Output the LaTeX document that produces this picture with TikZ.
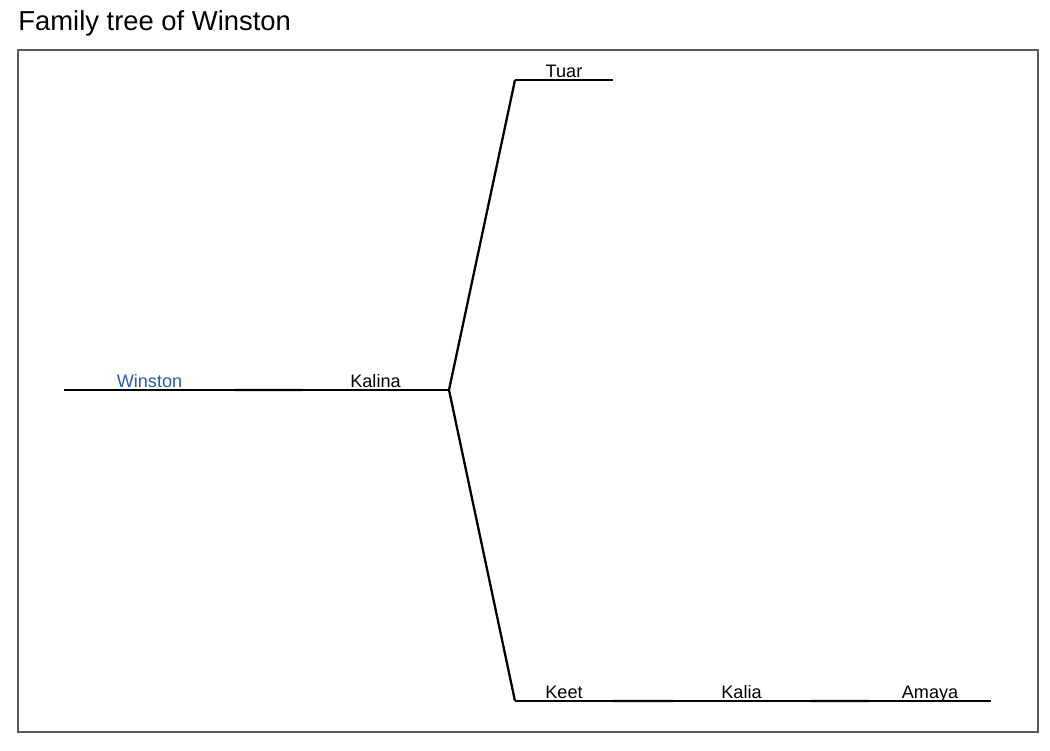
\documentclass[tikz,border=0pt]{standalone}
\usepackage{fontspec}
\setmainfont{Liberation Sans}
\usetikzlibrary{calc}
\definecolor{winblue}{RGB}{38,92,162}
\definecolor{framegray}{RGB}{90,90,90}

\begin{document}
\begin{tikzpicture}[x=0.02cm,y=-0.02cm,
		branch/.style={line width=1.3pt, line cap=butt},
		person/.style={anchor=base, yshift=1.7pt, inner sep=0pt, font=\fontsize{10.3}{12}\selectfont}]
		\useasboundingbox (0,0) rectangle (1050,750);
		\node[anchor=base west, inner sep=0pt, font=\fontsize{15.6}{19}\selectfont] (title) at (18,31) {Family tree of Winston};
		\draw[framegray, line width=0.6pt] (18,50) rectangle (1038,732);
		% one branch per person, name above it
		\draw[branch] (64,390) coordinate (winstonL) -- node[person, text=winblue] (winston) {Winston} (235,390) coordinate (winstonR);
		\draw[branch] (302,390) coordinate (kalinaL) -- node[person] (kalina) {Kalina} (449,390) coordinate (kalinaR);
		\draw[branch] (515,80) coordinate (tuarL) -- node[person] (tuar) {Tuar} (613,80) coordinate (tuarR);
		\draw[branch] (515,701) coordinate (keetL) -- node[person] (keet) {Keet} (613,701) coordinate (keetR);
		\draw[branch] (673,701) coordinate (kaliaL) -- node[person] (kalia) {Kalia} (810,701) coordinate (kaliaR);
		\draw[branch] (869,701) coordinate (amayaL) -- node[person] (amaya) {Amaya} (991,701) coordinate (amayaR);
		% links between generations
		\draw[branch]
			(winstonR) -- (kalinaL)
			(tuarL) -- (kalinaR) -- (keetL)
			(keetR) -- (kaliaL)
			(kaliaR) -- (amayaL);
	\end{tikzpicture}
\end{document}
